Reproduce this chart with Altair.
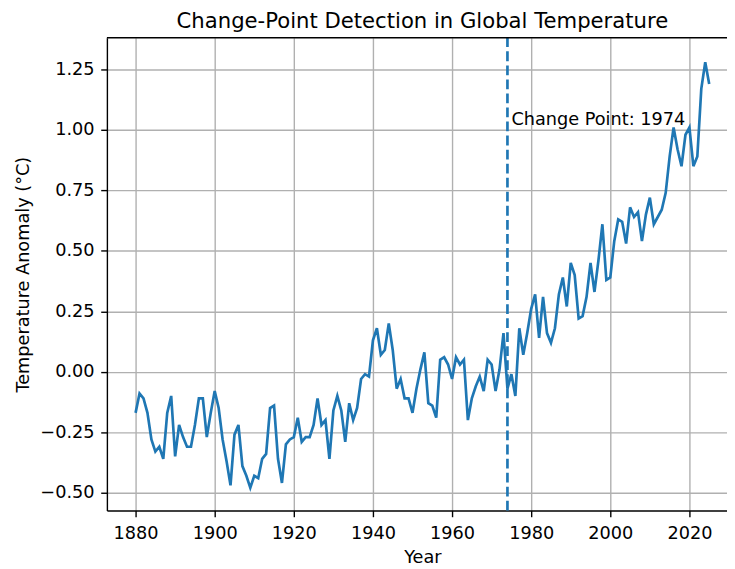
import altair as alt
import pandas as pd

years = list(range(1880, 2026))
anomaly = [
    -0.17, -0.09, -0.11, -0.17, -0.28, -0.33, -0.31, -0.36, -0.17, -0.10,
    -0.35, -0.22, -0.27, -0.31, -0.31, -0.22, -0.11, -0.11, -0.27, -0.17,
    -0.08, -0.15, -0.28, -0.37, -0.47, -0.26, -0.22, -0.39, -0.43, -0.48,
    -0.43, -0.44, -0.36, -0.34, -0.15, -0.14, -0.36, -0.46, -0.30, -0.28,
    -0.27, -0.19, -0.29, -0.27, -0.27, -0.22, -0.11, -0.22, -0.20, -0.36,
    -0.16, -0.10, -0.16, -0.29, -0.13, -0.20, -0.15, -0.03, -0.01, -0.02,
    0.13, 0.18, 0.07, 0.09, 0.20, 0.09, -0.07, -0.03, -0.11, -0.11,
    -0.17, -0.07, 0.01, 0.08, -0.13, -0.14, -0.19, 0.05, 0.06, 0.03,
    -0.03, 0.06, 0.03, 0.05, -0.20, -0.11, -0.06, -0.02, -0.08, 0.05,
    0.03, -0.08, 0.01, 0.16, -0.07, -0.01, -0.10, 0.18, 0.07, 0.16,
    0.26, 0.32, 0.14, 0.31, 0.16, 0.12, 0.18, 0.32, 0.39, 0.27,
    0.45, 0.40, 0.22, 0.23, 0.31, 0.45, 0.33, 0.46, 0.61, 0.38,
    0.39, 0.54, 0.63, 0.62, 0.53, 0.68, 0.64, 0.66, 0.54, 0.65,
    0.72, 0.61, 0.64, 0.67, 0.74, 0.89, 1.01, 0.92, 0.85, 0.98,
    1.01, 0.85, 0.89, 1.17, 1.28, 1.19,
]
cp_year = 1974
cp_label = "Change Point: 1974"
cp_label_y = 1.0
title_text = "Change-Point Detection in Global Temperature"
x_ticks = [1880, 1900, 1920, 1940, 1960, 1980, 2000, 2020]
y_ticks = [-0.5, -0.25, 0.0, 0.25, 0.5, 0.75, 1.0, 1.25]

W, H = 627, 478
FS = 17.9
FONT = "DejaVu Sans"
BLUE = "#1f77b4"

df = pd.DataFrame({"Year": years, "Anomaly": anomaly})
cp_df = pd.DataFrame({"Year": [cp_year], "Anomaly": [cp_label_y], "label": [cp_label]})
title_df = pd.DataFrame({"t": [title_text]})

xs = alt.Scale(domain=[1872.75, 1872.75 + W / 4.0], nice=False, zero=False)
ys = alt.Scale(domain=[-0.574, 1.381], nice=False, zero=False)

line = alt.Chart(df).mark_line(color=BLUE, strokeWidth=2.7, clip=True).encode(
    x=alt.X("Year:Q", scale=xs,
            axis=alt.Axis(values=x_ticks, format="d", title="Year",
                          titleX=319, titleAlign="center", titlePadding=6,
                          labelPadding=8)),
    y=alt.Y("Anomaly:Q", scale=ys,
            axis=alt.Axis(values=y_ticks, format=".2f",
                          title="Temperature Anomaly (°C)",
                          titlePadding=7, labelPadding=6.75)),
)

rule = alt.Chart(cp_df).mark_rule(
    color=BLUE, strokeWidth=2.7, strokeDash=[9.9, 4.3]
).encode(x=alt.X("Year:Q", scale=xs), y=alt.value(H), y2=alt.value(0))

text = alt.Chart(cp_df).mark_text(
    align="left", baseline="alphabetic", dx=4, dy=-5,
    fontSize=FS, font=FONT, color="black"
).encode(x=alt.X("Year:Q", scale=xs), y=alt.Y("Anomaly:Q", scale=ys), text="label:N")

spine = alt.Chart(alt.Data(values=[{}])).mark_rule(
    color="black", strokeWidth=1.4
).encode(x=alt.value(0), x2=alt.value(W), y=alt.value(0))

title = alt.Chart(title_df).mark_text(
    align="center", baseline="alphabetic", fontSize=21.4, font=FONT, color="black"
).encode(x=alt.value(319), y=alt.value(-10), text="t:N")

chart = alt.layer(line, rule, text, spine, title).properties(
    width=W, height=H,
    padding={"left": 100, "top": 27, "right": 0, "bottom": 60},
    autosize=alt.AutoSizeParams(type="none"),
    background="white",
).configure_view(stroke=None).configure_axis(
    labelFont=FONT, labelFontSize=FS, labelColor="black",
    titleFont=FONT, titleFontSize=FS, titleFontWeight="normal", titleColor="black",
    tickSize=6.25, tickWidth=1.4, tickColor="black",
    domainColor="black", domainWidth=1.4,
    gridColor="#b0b0b0", gridWidth=1.4, gridOpacity=1,
    labelFlush=False, labelOverlap=False, labelBound=False,
)

chart.save("out.html", embed_options={"renderer": "svg", "actions": False})
